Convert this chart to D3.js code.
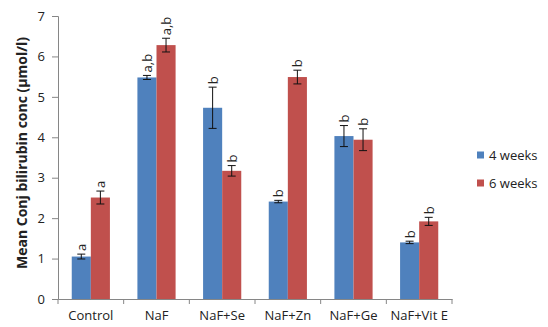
<!DOCTYPE html>
<html>
<head>
<meta charset="utf-8">
<script src="https://cdn.jsdelivr.net/npm/d3@7"></script>
<style>
  body { margin: 0; background: #fff; }
  text { font-family: "Open Sans", "Liberation Sans", sans-serif; }
</style>
</head>
<body>
<svg id="chart" width="548" height="327"></svg>
<script>
// Groups and series
const categories = ["Control", "NaF", "NaF+Se", "NaF+Zn", "NaF+Ge", "NaF+Vit E"];
const seriesNames = ["4 weeks", "6 weeks"];
const weeks4 = [1.05, 5.48, 4.73, 2.41, 4.03, 1.40];
const weeks6 = [2.51, 6.28, 3.17, 5.49, 3.94, 1.92];
const err4 = [0.06, 0.05, 0.51, 0.03, 0.26, 0.03];
const err6 = [0.16, 0.17, 0.13, 0.17, 0.27, 0.10];
const sig4 = ["a", "a,b", "b", "b", "b", "b"];
const sig6 = ["a", "a,b", "b", "b", "b", "b"];
const yTicks = [0, 1, 2, 3, 4, 5, 6, 7];
const colors = ["#4F81BD", "#C0504D"];

const svg = d3.select("#chart");
const left = 58;

const x = d3.scaleBand().domain(categories).range([left, 452]).padding(0);
const inner = d3.scaleBand().domain(seriesNames).range([0, x.bandwidth()]).paddingOuter(0.72).paddingInner(0);
const y = d3.scaleLinear().domain([0, 7]).range([299, 16]);

const axisColor = "#868686";
const textColor = "#222";

// y axis
const yAxis = svg.append("g").attr("transform", `translate(${left},0)`)
  .call(d3.axisLeft(y).tickValues(yTicks).tickSize(6).tickPadding(7).tickFormat(d3.format("d")));
yAxis.select(".domain").attr("stroke", axisColor);
yAxis.selectAll(".tick line").attr("stroke", axisColor);
yAxis.selectAll("text").attr("font-size", 13).attr("fill", textColor);

// x axis with ticks on the group boundaries
const xAxis = svg.append("g").attr("transform", `translate(0,${y(0)})`)
  .call(d3.axisBottom(x).tickSize(0).tickPadding(12));
xAxis.select(".domain").attr("stroke", axisColor);
xAxis.selectAll("text").attr("font-size", 13).attr("fill", textColor);
const bounds = categories.map(c => x(c)).concat([x(categories[categories.length - 1]) + x.bandwidth()]);
xAxis.selectAll(".bound").data(bounds).enter().append("line")
  .attr("x1", d => d).attr("x2", d => d).attr("y1", 0).attr("y2", 5)
  .attr("stroke", axisColor);

// bars
const rows = [];
categories.forEach((c, i) => {
  rows.push({ c, s: seriesNames[0], v: weeks4[i], e: err4[i], sig: sig4[i], k: 0 });
  rows.push({ c, s: seriesNames[1], v: weeks6[i], e: err6[i], sig: sig6[i], k: 1 });
});

const g = svg.append("g");
g.selectAll("rect.bar").data(rows).enter().append("rect")
  .attr("class", "bar")
  .attr("x", d => x(d.c) + inner(d.s))
  .attr("width", inner.bandwidth())
  .attr("y", d => y(d.v))
  .attr("height", d => y(0) - y(d.v))
  .attr("fill", d => colors[d.k]);

// error bars
const cap = 4;
const eb = g.selectAll("g.err").data(rows).enter().append("g").attr("class", "err");
const cx = d => x(d.c) + inner(d.s) + inner.bandwidth() / 2;
eb.append("line").attr("x1", cx).attr("x2", cx)
  .attr("y1", d => y(d.v + d.e)).attr("y2", d => y(d.v - d.e))
  .attr("stroke", "#111").attr("stroke-width", 1);
eb.append("line").attr("x1", d => cx(d) - cap).attr("x2", d => cx(d) + cap)
  .attr("y1", d => y(d.v + d.e)).attr("y2", d => y(d.v + d.e))
  .attr("stroke", "#111").attr("stroke-width", 1);
eb.append("line").attr("x1", d => cx(d) - cap).attr("x2", d => cx(d) + cap)
  .attr("y1", d => y(d.v - d.e)).attr("y2", d => y(d.v - d.e))
  .attr("stroke", "#111").attr("stroke-width", 1);

// significance letters, rotated
g.selectAll("text.sig").data(rows).enter().append("text")
  .attr("class", "sig")
  .attr("transform", d => `translate(${cx(d)},${y(d.v + d.e) - 3}) rotate(-90)`)
  .attr("dominant-baseline", "central")
  .attr("font-size", 13)
  .attr("fill", textColor)
  .text(d => d.sig);

// y axis title
svg.append("text")
  .attr("transform", "translate(21,153) rotate(-90)")
  .attr("text-anchor", "middle")
  .attr("dominant-baseline", "central")
  .attr("font-size", 14)
  .attr("font-weight", "bold")
  .attr("fill", textColor)
  .text("Mean Conj bilirubin conc (μmol/l)");

// legend
const legend = svg.append("g").attr("transform", "translate(477,155)");
seriesNames.forEach((s, i) => {
  const row = legend.append("g").attr("transform", `translate(0,${i * 28})`);
  row.append("rect").attr("x", 0).attr("y", -3.5).attr("width", 7).attr("height", 7).attr("fill", colors[i]);
  row.append("text").attr("x", 12).attr("y", 0).attr("dominant-baseline", "central")
    .attr("font-size", 13).attr("fill", textColor).text(s);
});
</script>
</body>
</html>
